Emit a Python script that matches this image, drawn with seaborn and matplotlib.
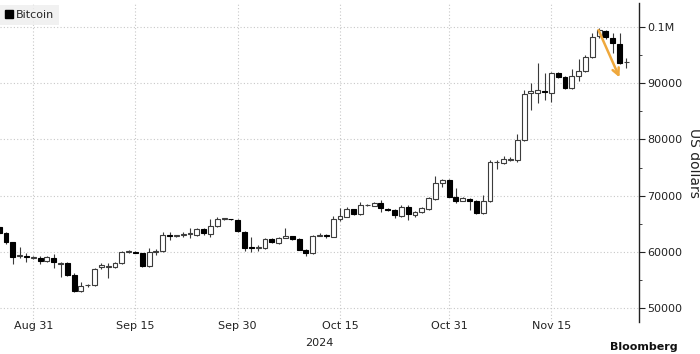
import numpy as np
import pandas as pd
import matplotlib
matplotlib.use("Agg")
import matplotlib.pyplot as plt
import matplotlib.dates as mdates
from matplotlib.patches import Patch
from matplotlib.ticker import FixedLocator, FuncFormatter, MultipleLocator
import seaborn as sns

# ---------------- data (daily OHLC, USD) ----------------
dates = pd.date_range("2024-08-26", "2024-11-26", freq="D")

opens = [
    64400, 63400, 61700, 59200, 59300, 59000,
    58900, 58400, 58900, 57900, 58000, 55900, 53000, 54100, 54200, 57300,
    57400, 57300, 58000, 60000, 60000, 59800, 57500, 60000, 60200, 63000,
    62800, 63000, 63200, 63000, 64100, 63200, 64600, 65900, 65900, 65700,
    63600, 60800, 60700, 60700, 62300, 61600, 62500, 62800, 62300, 60400,
    59800, 62900, 63000, 62600, 65800, 66300, 67600, 66700, 68300, 68200,
    68700, 67700, 67500, 66400, 68000, 66600, 67100, 67600, 69400, 72300, 72800,
    69800, 69100, 69400, 69000, 66900, 69000, 75900, 75800, 76400, 76300,
    79900, 88300, 88300, 88600, 88300, 91800, 91100, 89200, 91300, 92100,
    94600, 98300, 99300, 98000, 96900, 93700,
]
closes = [
    63400, 61700, 59100, 59400, 59100, 59000,
    58400, 59100, 58200, 58000, 55900, 53000, 54000, 54200, 57000, 57700,
    57500, 58100, 60000, 60100, 59900, 57500, 60000, 60200, 63000, 62800,
    63000, 63100, 63300, 64100, 63400, 64600, 65900, 65900, 65800, 63700,
    60700, 60700, 60800, 62300, 61700, 62500, 62900, 62300, 60400, 59800,
    62800, 63000, 62800, 65900, 66400, 67600, 66700, 68300, 68300, 68700,
    67800, 67500, 66600, 68000, 66700, 67100, 67800, 69600, 72300, 72800, 69800,
    69100, 69600, 69000, 66900, 69000, 76000, 76000, 76500, 76500, 79900,
    88100, 88500, 88700, 88400, 91800, 91100, 89200, 91300, 92200, 94600,
    98100, 99500, 98100, 97100, 93500, 93800,
]
highs = [
    64600, 63500, 61700, 60900, 59800, 59200,
    59200, 59300, 59600, 58200, 58200, 56200, 54700, 54400, 57200, 58000,
    58000, 58300, 60200, 60300, 60100, 59900, 60700, 60600, 63600, 63600,
    63100, 63500, 64200, 64300, 64200, 65900, 66300, 66000, 65900, 65800,
    63800, 62700, 61300, 62400, 62400, 62600, 64300, 62900, 62400, 60500,
    63000, 63300, 63200, 66400, 67800, 68000, 67700, 68800, 68500, 68900,
    69200, 67800, 67600, 68400, 68300, 67300, 68000, 69800, 73500, 72900, 72900,
    71400, 69700, 69500, 69300, 70100, 76400, 76400, 77100, 76800, 81000,
    88800, 90000, 93600, 91800, 91900, 92000, 91300, 92500, 94200, 95000,
    98900, 99700, 99400, 98900, 98900, 94400,
]
lows = [
    63100, 61500, 57900, 58900, 58200, 58800,
    57800, 58200, 57200, 55600, 55800, 52900, 52900, 53800, 54000, 57000,
    55400, 57200, 57800, 59800, 59800, 57300, 57300, 59500, 60000, 62200,
    62700, 62600, 62500, 62900, 63100, 62700, 64500, 65700, 65600, 63500,
    60200, 60000, 60200, 60500, 61600, 61500, 62400, 62200, 60300, 59300,
    59700, 62800, 62400, 62600, 65500, 66200, 66600, 66600, 68100, 68100,
    67100, 67200, 66000, 66300, 65700, 66200, 67000, 67500, 69300, 71500, 69700,
    68700, 69000, 67500, 66800, 66800, 68900, 74800, 75600, 76200, 76000,
    79700, 85200, 86500, 87000, 86700, 90900, 89000, 89000, 90300, 92000,
    94400, 98000, 97900, 95400, 93400, 92600,
]

grid_dates = ["2024-08-31", "2024-09-15", "2024-09-30", "2024-10-15", "2024-10-31", "2024-11-15"]
grid_labels = ["Aug 31", "Sep 15", "Sep 30", "Oct 15", "Oct 31", "Nov 15"]
y_ticks = [50000, 60000, 70000, 80000, 90000, 100000]
series_name = "Bitcoin"
year_label = "2024"
y_title = "US dollars"
source_label = "Bloomberg"

# annotation arrow (start, end)
arrow_start = ("2024-11-21 22:00", 99400)
arrow_end = ("2024-11-25 00:00", 91000)

df = pd.DataFrame({"date": dates, "open": opens, "high": highs,
                   "low": lows, "close": closes})

# ---------------- style ----------------
sns.set_theme(style="white")
plt.rcParams["font.family"] = ["DejaVu Sans"]

fig = plt.figure(figsize=(7.0, 3.54), dpi=100)
ax = fig.add_axes([0.0, 0.0904, 0.913, 0.901])

x = mdates.date2num(df["date"])
o = df["open"].to_numpy(float)
c = df["close"].to_numpy(float)
h = df["high"].to_numpy(float)
l = df["low"].to_numpy(float)
up = c >= o

lo_b = np.minimum(o, c)
hgt = np.maximum(np.abs(c - o), 120)

ax.vlines(x, l, h, color="#3a3a3a", lw=0.8, zorder=2)
ax.bar(x[up], hgt[up], bottom=lo_b[up], width=0.72, facecolor="white",
       edgecolor="#3c3c3c", linewidth=0.8, zorder=3)
ax.bar(x[~up], hgt[~up], bottom=lo_b[~up], width=0.72, facecolor="black",
       edgecolor="black", linewidth=0.8, zorder=3)

# arrow
ax.annotate("", xy=(mdates.date2num(pd.Timestamp(arrow_end[0])), arrow_end[1]),
            xytext=(mdates.date2num(pd.Timestamp(arrow_start[0])), arrow_start[1]),
            arrowprops=dict(arrowstyle="->", color="#EFA83C", lw=1.8,
                            mutation_scale=12, shrinkA=0, shrinkB=0),
            zorder=5)

# limits
ax.set_xlim(mdates.date2num(pd.Timestamp("2024-08-26 03:00")),
            mdates.date2num(pd.Timestamp("2024-11-27 21:00")))
ax.set_ylim(47570, 104200)

# x axis
gd = mdates.date2num(pd.to_datetime(grid_dates))
ax.xaxis.set_major_locator(FixedLocator(gd))
ax.set_xticklabels(grid_labels)
ax.tick_params(axis="x", length=0, pad=-0.5, labelsize=8, colors="#222222")
ax.text(0.5, -0.066, year_label, transform=ax.transAxes, ha="center",
        va="center", fontsize=8, color="#222222")

# y axis on the right
ax.yaxis.tick_right()
ax.yaxis.set_label_position("right")
ax.yaxis.set_major_locator(FixedLocator(y_ticks))
ax.yaxis.set_minor_locator(MultipleLocator(5000))
ax.yaxis.set_major_formatter(FuncFormatter(
    lambda v, p: "0.1M" if v >= 100000 else f"{int(v)}"))
ax.tick_params(axis="y", which="major", length=4, width=0.8, direction="out",
               pad=2, labelsize=8, colors="#222222", right=True, left=False)
ax.tick_params(axis="y", which="minor", length=2, width=0.6, direction="out",
               right=True, left=False, color="#222222")
ax.set_ylabel(y_title, rotation=270, fontsize=10, labelpad=13, color="#222222")

# grid
ax.grid(True, which="major", axis="both", color="#c8c8c8", lw=0.8,
        linestyle=(0, (1, 2)))
ax.set_axisbelow(True)

for side in ["left", "top", "bottom"]:
    ax.spines[side].set_visible(False)
ax.spines["right"].set_color("#222222")
ax.spines["right"].set_linewidth(1.0)

# legend
leg = ax.legend(handles=[Patch(facecolor="black", edgecolor="black")],
                labels=[series_name], loc="upper left",
                bbox_to_anchor=(0.0, 0.995), frameon=True, fancybox=False,
                facecolor="#eeeeee", edgecolor="#eeeeee", fontsize=8,
                handlelength=0.7, handleheight=0.7, handletextpad=0.3,
                borderpad=0.45, borderaxespad=0.0)
leg.get_frame().set_linewidth(0)
leg.set_zorder(10)

fig.text(0.872, 0.006, source_label, fontsize=8, color="#111111",
         ha="left", va="bottom", fontweight="bold")

fig.savefig("out.png", dpi=100)
